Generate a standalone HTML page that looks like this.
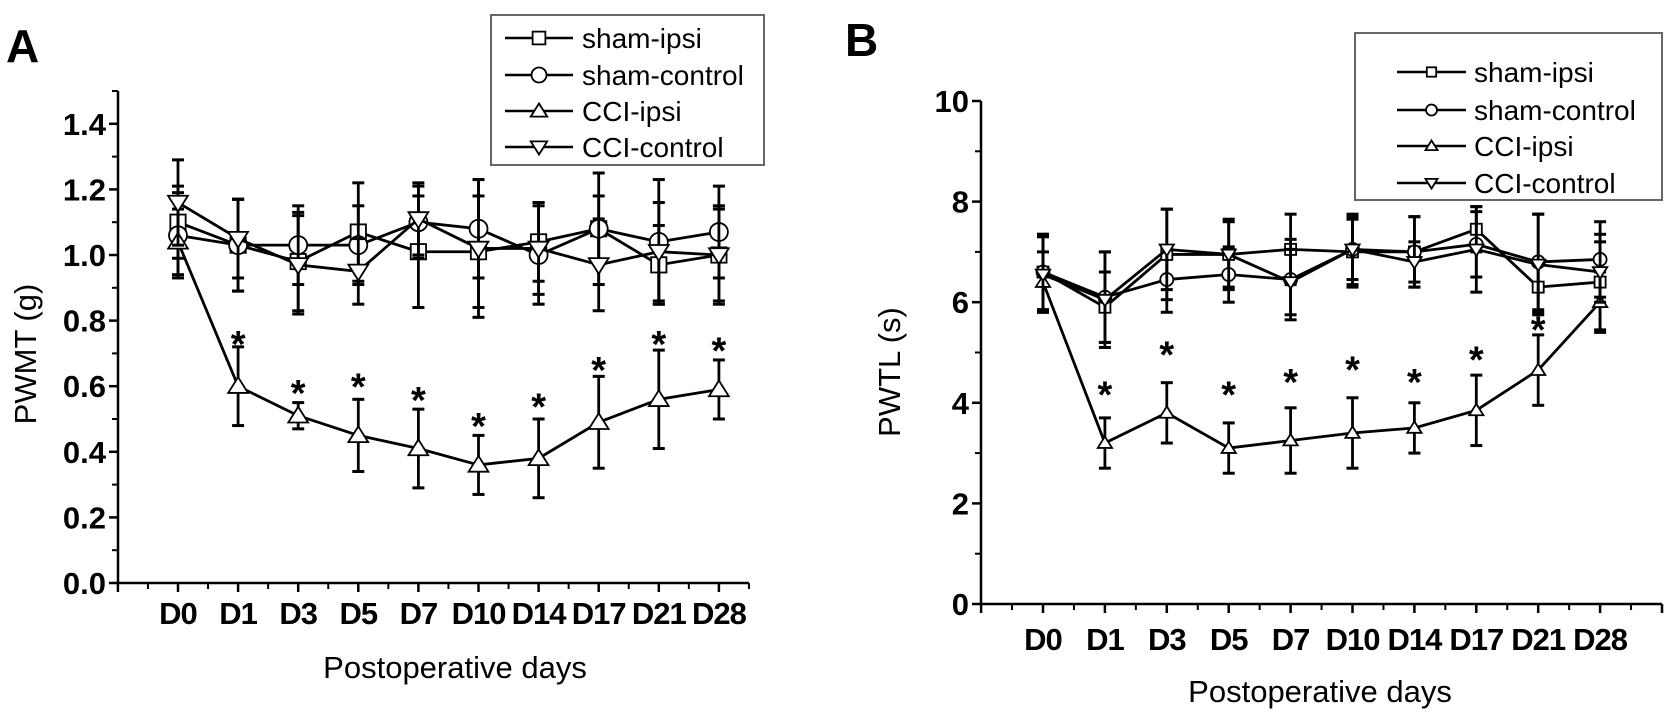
<!DOCTYPE html>
<html><head><meta charset="utf-8"><style>
html,body{margin:0;padding:0;background:#fff;}
svg{display:block;font-family:"Liberation Sans",Arial,sans-serif;}
</style></head><body>
<svg id="fig" width="1677" height="717" viewBox="0 0 1677 717"></svg>
<script>
const categories = ["D0","D1","D3","D5","D7","D10","D14","D17","D21","D28"];
const seriesNames = ["sham-ipsi","sham-control","CCI-ipsi","CCI-control"];
const markers = ["square","circle","tri-up","tri-down"];
// Panel A (PWMT, g)
const aShamIpsi = [1.10,1.03,0.98,1.07,1.01,1.01,1.04,1.08,0.97,1.00];
const aShamCtrl = [1.06,1.03,1.03,1.03,1.10,1.08,1.00,1.08,1.04,1.07];
const aCciIpsi  = [1.04,0.60,0.51,0.45,0.41,0.36,0.38,0.49,0.56,0.59];
const aCciCtrl  = [1.16,1.05,0.97,0.95,1.11,1.02,1.02,0.97,1.01,1.00];
const aShamIpsiErr = [0.11,0.14,0.15,0.15,0.17,0.17,0.12,0.10,0.12,0.14];
const aShamCtrlErr = [0.13,0.14,0.12,0.12,0.11,0.15,0.15,0.17,0.19,0.14];
const aCciIpsiErr  = [0.10,0.12,0.04,0.11,0.12,0.09,0.12,0.14,0.15,0.09];
const aCciCtrlErr  = [0.13,0.12,0.15,0.10,0.11,0.21,0.14,0.14,0.15,0.15];
const aStars = [null,0.75,0.60,0.62,0.58,0.50,0.56,0.67,0.75,0.73];
const aTicks = [0.0,0.2,0.4,0.6,0.8,1.0,1.2,1.4];
// Panel B (PWTL, s)
const bShamIpsi = [6.60,5.90,6.95,6.95,7.05,7.00,7.00,7.45,6.30,6.40];
const bShamCtrl = [6.60,6.10,6.45,6.55,6.45,7.05,7.00,7.15,6.80,6.85];
const bCciIpsi  = [6.40,3.20,3.80,3.10,3.25,3.40,3.50,3.85,4.65,6.00];
const bCciCtrl  = [6.55,6.05,7.05,6.95,6.40,7.05,6.80,7.05,6.75,6.60];
const bShamIpsiErr = [0.75,0.70,0.90,0.65,0.70,0.70,0.70,0.45,0.50,0.95];
const bShamCtrlErr = [0.75,0.90,0.65,0.55,0.80,0.60,0.70,0.65,0.95,0.75];
const bCciIpsiErr  = [0.60,0.50,0.60,0.50,0.65,0.70,0.50,0.70,0.70,0.60];
const bCciCtrlErr  = [0.75,0.95,0.80,0.70,0.65,0.70,0.40,0.85,1.00,0.60];
const bStars = [null,4.30,5.10,4.30,4.55,4.80,4.55,5.00,5.60,null];
const bTicks = [0,2,4,6,8,10];

const NS="http://www.w3.org/2000/svg";
const svg=document.getElementById('fig');
function mk(tag,attrs,parent){const e=document.createElementNS(NS,tag);for(const k in attrs)e.setAttribute(k,attrs[k]);(parent||svg).appendChild(e);return e;}

function panel(cfg){
  const g=mk('g',{});
  
  
  const xs=i=>cfg.x0+cfg.dx*i;
  const ys=v=>cfg.yBase-(v-cfg.yMin)*cfg.yScale;
  const ax=mk('g',{},g);
  
  
  mk('line',{x1:cfg.axX,y1:ys(cfg.yMax),x2:cfg.axX,y2:cfg.yBase,stroke:'#000','stroke-width':2.5},ax);
  mk('line',{x1:cfg.axX-1,y1:cfg.yBase,x2:xs(cfg.xEnd),y2:cfg.yBase,stroke:'#000','stroke-width':2.5},ax);
  cfg.ticks.forEach((t,k)=>{
    const y=ys(t);
    mk('line',{x1:cfg.axX-9,y1:y,x2:cfg.axX,y2:y,stroke:'#000','stroke-width':2.5},ax);
    const tl=mk('text',{x:cfg.axX-12,y:y+11,'text-anchor':'end','font-size':31,'font-weight':'bold'},ax);
    tl.textContent=cfg.fmt(t);
    
    
    if(k<cfg.ticks.length-1||cfg.topMinor){
      const m=ys(t+cfg.tickStep/2);
      mk('line',{x1:cfg.axX-6,y1:m,x2:cfg.axX,y2:m,stroke:'#000','stroke-width':2},ax);
    }
  });
  for(let i=-1;i<=cfg.xEnd;i++){
    mk('line',{x1:xs(i),y1:cfg.yBase,x2:xs(i),y2:cfg.yBase+9,stroke:'#000','stroke-width':2.5},ax);
    if(i+0.5<=cfg.xEnd) mk('line',{x1:xs(i+0.5),y1:cfg.yBase,x2:xs(i+0.5),y2:cfg.yBase+6,stroke:'#000','stroke-width':2},ax);
  }
  categories.forEach((c,i)=>{
    const t=mk('text',{x:xs(i),y:cfg.xLabY,'text-anchor':'middle','font-size':31,'font-weight':'bold','letter-spacing':'-1'},ax);
    t.textContent=c;
    
    
  });
  const xt=mk('text',{x:cfg.xTitleX,y:cfg.xTitleY,'text-anchor':'middle','font-size':31},g);
  xt.textContent='Postoperative days';
  
  
  const yt=mk('text',{x:0,y:0,'text-anchor':'middle','font-size':31,transform:`translate(${cfg.yTitleX},${cfg.yTitleY}) rotate(-90)`},g);
  yt.textContent=cfg.yTitle;
  
  
  const pl=mk('text',{x:cfg.letterX,y:cfg.letterY,'font-size':46,'font-weight':'bold'},g);
  pl.textContent=cfg.letter;
  
  
  const all=[[cfg.s[0],cfg.e[0]],[cfg.s[1],cfg.e[1]],[cfg.s[2],cfg.e[2]],[cfg.s[3],cfg.e[3]]];
  all.forEach((pair,si)=>{
    const [vals,errs]=pair;
    const sg=mk('g',{},g);
    
    
    vals.forEach((v,i)=>{
      const x=xs(i),y1=ys(v+errs[i]),y2=ys(v-errs[i]);
      mk('line',{x1:x,y1:y1,x2:x,y2:y2,stroke:'#000','stroke-width':2.8},sg);
      mk('line',{x1:x-6,y1:y1,x2:x+6,y2:y1,stroke:'#000','stroke-width':3},sg);
      mk('line',{x1:x-6,y1:y2,x2:x+6,y2:y2,stroke:'#000','stroke-width':3},sg);
    });
    const pts=vals.map((v,i)=>xs(i)+','+ys(v)).join(' ');
    const pline=mk('polyline',{points:pts,fill:'none',stroke:'#000','stroke-width':2.8},sg);
    
    
    vals.forEach((v,i)=>{
      const m=marker(markers[si],xs(i),ys(v),cfg.ms,sg);
      
      
    });
  });
  cfg.stars.forEach((s,i)=>{
    if(s===null)return;
    const t=mk('text',{x:xs(i),y:ys(s)+20,'text-anchor':'middle','font-size':38,'font-weight':'bold'},g);
    t.textContent='*';
    
    
  });
  const lg=mk('g',{},g);
  
  
  mk('rect',{x:cfg.lg.x,y:cfg.lg.y,width:cfg.lg.w,height:cfg.lg.h,fill:'#fff',stroke:'#666','stroke-width':2},lg);
  seriesNames.forEach((n,k)=>{
    const y=cfg.lg.rows[k];
    const e=mk('g',{},lg);
    
    
    mk('line',{x1:cfg.lg.lx1,y1:y,x2:cfg.lg.lx2,y2:y,stroke:'#000','stroke-width':2.5},e);
    marker(markers[k],(cfg.lg.lx1+cfg.lg.lx2)/2,y,cfg.lg.ms,e);
    const t=mk('text',{x:cfg.lg.tx,y:y+10,'font-size':cfg.lg.fs},e);
    t.textContent=n;
  });
}
function marker(type,x,y,r,parent){
  const st={fill:'#fff',stroke:'#000','stroke-width':1.8};
  if(type==='square')return mk('rect',Object.assign({x:x-r*0.85,y:y-r*0.85,width:r*1.7,height:r*1.7},st),parent);
  if(type==='circle')return mk('circle',Object.assign({cx:x,cy:y,r:r},st),parent);
  if(type==='tri-up')return mk('polygon',Object.assign({points:`${x},${y-r} ${x-r*1.1},${y+r*0.75} ${x+r*1.1},${y+r*0.75}`},st),parent);
  return mk('polygon',Object.assign({points:`${x},${y+r} ${x-r*1.1},${y-r*0.75} ${x+r*1.1},${y-r*0.75}`},st),parent);
}
panel({name:'panel-a-pwmt-chart',x0:178,dx:60.1,axX:118,xEnd:9.5,yBase:583,yMin:0,yMax:1.5,yScale:328,
  ticks:aTicks,tickStep:0.2,topMinor:true,fmt:t=>t.toFixed(1),xLabY:624,xTitleX:455,xTitleY:678,
  yTitle:'PWMT (g)',yTitleX:36,yTitleY:354,letter:'A',letterX:6,letterY:62,ms:9,
  s:[aShamIpsi,aShamCtrl,aCciIpsi,aCciCtrl],e:[aShamIpsiErr,aShamCtrlErr,aCciIpsiErr,aCciCtrlErr],stars:aStars,
  lg:{x:491,y:15,w:273,h:150,rows:[38,75,111,147],lx1:505,lx2:573,tx:582,fs:28,ms:7.5}});
panel({name:'panel-b-pwtl-chart',x0:1043,dx:61.9,axX:981,xEnd:10,yBase:604,yMin:0,yMax:10,yScale:50.3,
  ticks:bTicks,tickStep:2,topMinor:false,fmt:t=>String(t),xLabY:650,xTitleX:1320,xTitleY:702,
  yTitle:'PWTL (s)',yTitleX:900,yTitleY:372,letter:'B',letterX:845,letterY:56,ms:6.5,
  s:[bShamIpsi,bShamCtrl,bCciIpsi,bCciCtrl],e:[bShamIpsiErr,bShamCtrlErr,bCciIpsiErr,bCciCtrlErr],stars:bStars,
  lg:{x:1355,y:33,w:307,h:167,rows:[72,110,146,183],lx1:1397,lx2:1466,tx:1474,fs:28,ms:5.5}});
</script>
</body></html>
